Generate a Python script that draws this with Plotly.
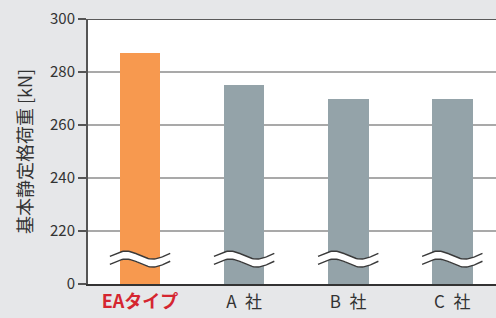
import numpy as np
import plotly.graph_objects as go

categories = ["EAタイプ", "A\u2002社", "B\u2002社", "C\u2002社"]
values = [287, 275, 270, 270]
colors = ["#f7994f", "#94a3a9", "#94a3a9", "#94a3a9"]
y_tickvals = [200, 220, 240, 260, 280, 300]
y_ticktext = ["0", "220", "240", "260", "280", "300"]
break_value = 209.4

xpos = list(range(len(categories)))
ticktext = ["<b><span style='color:#d52630;font-size:18px'>%s</span></b>" % categories[0]] + categories[1:]

fig = go.Figure()
fig.add_trace(go.Bar(x=xpos, y=values, marker=dict(color=colors, line=dict(width=0)),
                     width=0.39, hoverinfo="skip"))

# wavy break symbols across each bar
t = np.linspace(-0.1 * np.pi, 2.15 * np.pi, 50)
half_w = 0.29
amp = 1.5
gap = 1.5
for xc in xpos:
    xs = xc - half_w + (t - t[0]) / (t[-1] - t[0]) * 2 * half_w
    wave = amp * np.sin(t)
    upper = break_value + gap + wave
    lower = break_value - gap + wave
    fig.add_trace(go.Scatter(x=np.concatenate([xs, xs[::-1]]),
                             y=np.concatenate([upper, lower[::-1]]),
                             fill="toself", fillcolor="white", mode="lines",
                             line=dict(width=0), hoverinfo="skip", showlegend=False))
    for yy in (upper, lower):
        fig.add_trace(go.Scatter(x=xs, y=yy, mode="lines",
                                 line=dict(color="#3a3a3a", width=1.4),
                                 hoverinfo="skip", showlegend=False))

for v in y_tickvals[1:-1]:
    fig.add_shape(type="line", xref="paper", yref="y", x0=0, x1=1, y0=v, y1=v,
                  line=dict(color="#8c8c8c", width=1.5), layer="below")
fig.add_shape(type="line", xref="paper", yref="y", x0=0, x1=1, y0=300, y1=300,
              line=dict(color="#5a5a5a", width=2), layer="above")

fig.update_layout(
    width=496, height=318,
    margin=dict(l=88, r=0, t=19, b=34),
    paper_bgcolor="#e6e7e9", plot_bgcolor="white",
    showlegend=False, bargap=0,
    font=dict(family="Noto Sans CJK JP", color="#333333"),
)
fig.update_xaxes(range=[-0.5, 3.42], tickvals=xpos, ticktext=ticktext,
                 tickfont=dict(size=17, color="#333333"), showgrid=False,
                 zeroline=False, showline=True, linecolor="#333333", linewidth=2,
                 ticks="", ticklabelstandoff=2, fixedrange=True)
fig.update_yaxes(range=[200, 300], tickvals=y_tickvals, ticktext=y_ticktext,
                 tickfont=dict(size=15, color="#333333"), showgrid=False,
                 zeroline=False, showline=True, linecolor="#555555", linewidth=2,
                 ticks="outside", ticklen=8, tickcolor="#555555", tickwidth=1.5,
                 title=dict(text="基本静定格荷重 [kN]", font=dict(size=18, color="#333333"),
                            standoff=13))

fig.write_html("out.html", config={"displayModeBar": False},
               post_script="document.body.style.margin='0';document.body.style.background='#e6e7e9';")
